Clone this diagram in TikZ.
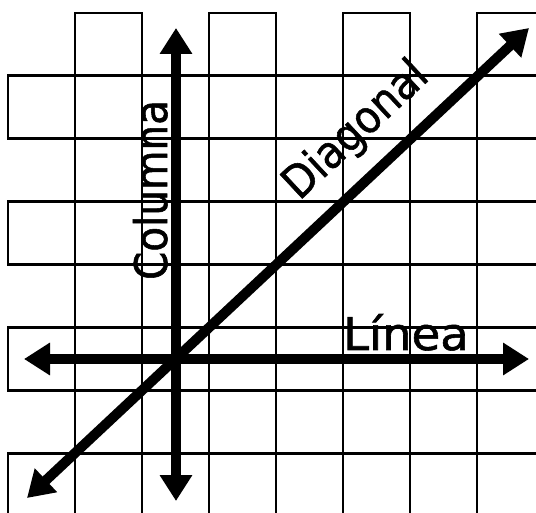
\documentclass[tikz,border=0pt]{standalone}
\usepackage{fontspec}
\usetikzlibrary{arrows.meta}
\newfontfamily\lblfont{DejaVu Sans}[FakeStretch=0.9,FakeBold=1.2]

\begin{document}
\begin{tikzpicture}[x=1pt,y=-1pt,
  cell/.style={draw,line width=2.8pt},
  arrow/.style={line width=10pt,{Triangle[length=26pt,width=31pt]}-{Triangle[length=26pt,width=31pt]}},
  lbl/.style={anchor=base,font=\lblfont\fontsize{45}{45}\selectfont,inner sep=0pt}]
\useasboundingbox (0,0) rectangle (536,513);
\clip (0,0) rectangle (536,513);
% board: outlined squares on alternating cells
\foreach \r in {1,...,8}
  \foreach \c in {1,...,8}{
    \pgfmathparse{int(mod(\r+\c,2))}
    \ifnum\pgfmathresult=1
      \draw[cell] ({8+(\c-1)*67},{13+(\r-1)*62.9}) rectangle +(67,62.9);
    \fi
  }
\coordinate (top) at (176,28);
\coordinate (bottom) at (176,501);
\coordinate (left) at (24,359);
\coordinate (right) at (529,359);
\coordinate (sw) at (27,498);
\coordinate (ne) at (529,28);
\draw[arrow] (bottom)--(top);
\draw[arrow] (left)--(right);
\draw[arrow] (sw)--(ne);
\node[lbl,rotate=90] (columna) at (167,190) {Columna};
\node[lbl,rotate=43] (diagonal) at (365,140) {Diagonal};
\node[lbl,xscale=1.15] (linea) at (406,350) {Línea};
\end{tikzpicture}
\end{document}
